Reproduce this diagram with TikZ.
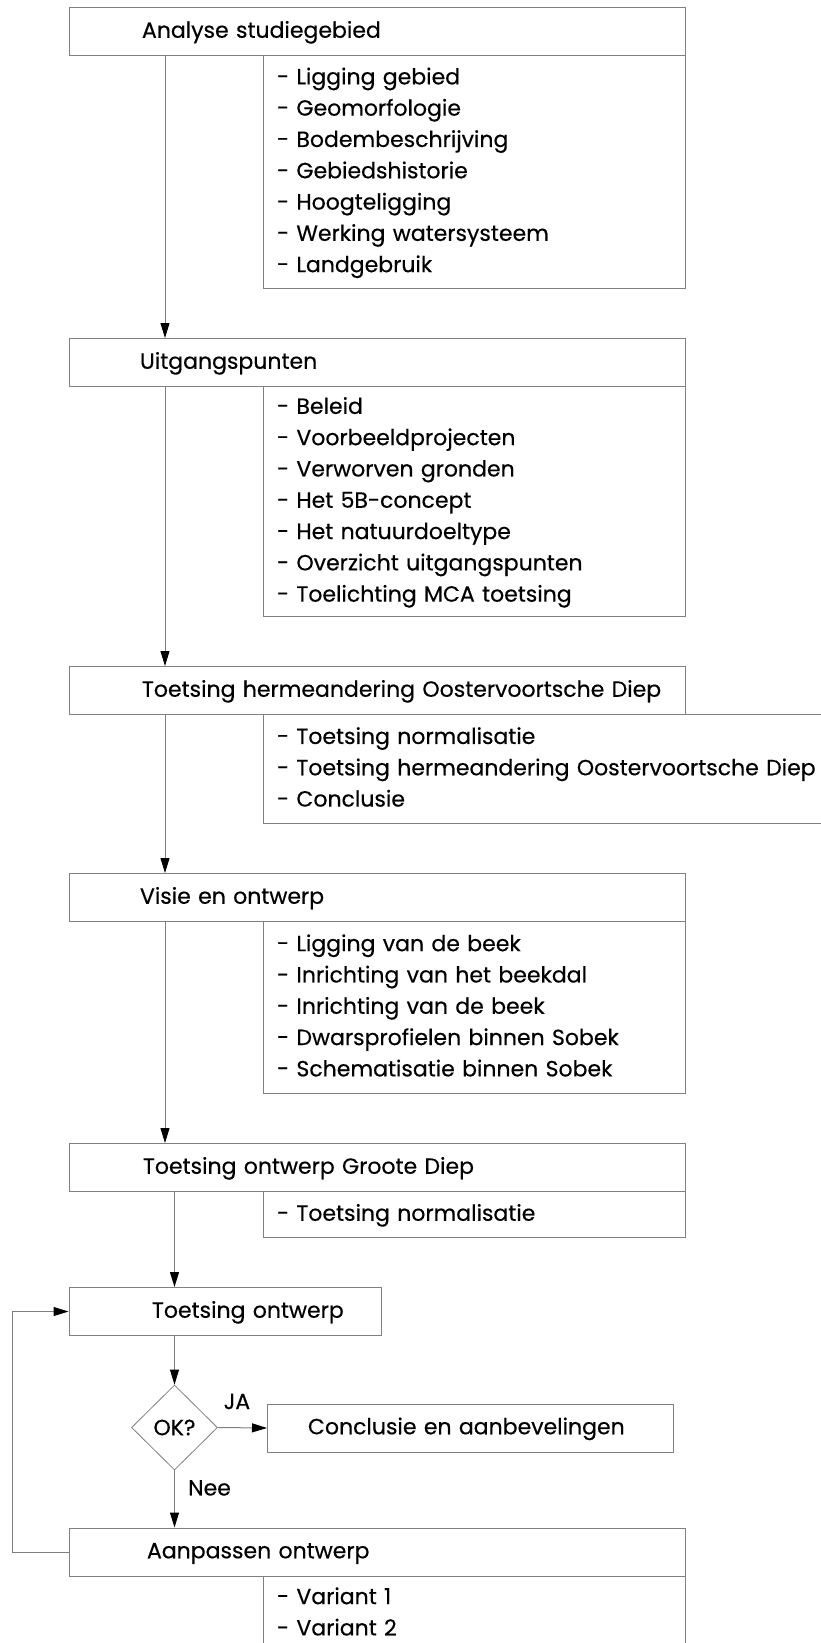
\documentclass[tikz,border=0pt]{standalone}
\usepackage{fontspec}
\setmainfont{Poppins}[FakeBold=0.4]
\usetikzlibrary{arrows.meta}
\usetikzlibrary{shapes.geometric}
\definecolor{linegray}{RGB}{128,128,128}

\begin{document}
\begin{tikzpicture}[x=1pt, y=-1pt,
	font=\fontsize{22}{31.3}\selectfont,
	box/.style 2 args={draw=linegray, line width=1pt, anchor=north west, inner sep=0pt,
		minimum height=48pt, text width=#1, align=left,
		execute at begin node={\leftskip=#2\relax\strut}, execute at end node={\strut}},
	decision/.style={draw=linegray, line width=0.8pt, diamond, inner sep=0pt,
		minimum width=86pt, minimum height=85pt},
	arr/.style={draw=linegray, line width=1pt,
		-{Triangle[length=15pt, width=9pt, color=black, fill=black]}}]
\useasboundingbox (0,0) rectangle (820,1643);

\node[box={616pt}{73pt}] (analyse) at (68.5,7) {Analyse studiegebied};
\node[box={422pt}{14pt}, minimum height=233pt] (analyselist) at (262.5,55) {- Ligging gebied\\ - Geomorfologie\\ - Bodembeschrijving\\ - Gebiedshistorie\\ - Hoogteligging\\ - Werking watersysteem\\ - Landgebruik};

\node[box={616pt}{71pt}] (uitgang) at (68.5,338) {Uitgangspunten};
\node[box={422pt}{14pt}, minimum height=230pt] (uitganglist) at (262.5,386) {- Beleid\\ - Voorbeeldprojecten\\ - Verworven gronden\\ - Het 5B-concept\\ - Het natuurdoeltype\\ - Overzicht uitgangspunten\\ - Toelichting MCA toetsing};

\node[box={616pt}{73pt}] (toetsherm) at (68.5,666) {Toetsing hermeandering Oostervoortsche Diep};
\node[box={567pt}{14pt}, minimum height=109pt] (toetshermlist) at (262.5,714) {- Toetsing normalisatie\\ - Toetsing hermeandering Oostervoortsche Diep\\ - Conclusie};

\node[box={616pt}{71pt}] (visie) at (68.5,873) {Visie en ontwerp};
\node[box={422pt}{14pt}, minimum height=172pt] (visielist) at (262.5,921) {- Ligging van de beek\\ - Inrichting van het beekdal\\ - Inrichting van de beek\\ - Dwarsprofielen binnen Sobek\\ - Schematisatie binnen Sobek};

\node[box={616pt}{74pt}] (groot) at (68.5,1143) {Toetsing ontwerp Groote Diep};
\node[box={422pt}{14pt}, minimum height=46pt] (grootlist) at (262.5,1191) {- Toetsing normalisatie};

\node[box={312.5pt}{83pt}] (toetsontw) at (68.5,1287) {Toetsing ontwerp};
\node[decision] (ok) at (174.5,1427.5) {OK?};
\node[box={405.6pt}{40.5pt}] (concl) at (267,1403.5) {Conclusie en aanbevelingen};
\node (ja) at ([shift={(19,-26)}]ok.east) {JA};
\node (nee) at ([shift={(35,17.5)}]ok.south) {Nee};

\node[box={616pt}{78pt}] (aanpas) at (68.5,1527.5) {Aanpassen ontwerp};
\node[box={422pt}{14pt}, minimum height=74pt] (aanpaslist) at (262.5,1576) {- Variant 1\\ - Variant 2};

\draw[arr] ([xshift=96.5pt]analyse.south west) -- ([xshift=96.5pt]uitgang.north west);
\draw[arr] ([xshift=96.5pt]uitgang.south west) -- ([xshift=96.5pt]toetsherm.north west);
\draw[arr] ([xshift=96.5pt]toetsherm.south west) -- ([xshift=96.5pt]visie.north west);
\draw[arr] ([xshift=96.5pt]visie.south west) -- ([xshift=96.5pt]groot.north west);
\draw[arr] ([xshift=106pt]groot.south west) -- ([xshift=106pt]toetsontw.north west);
\draw[arr] ([xshift=106pt]toetsontw.south west) -- (ok.north);
\draw[arr] (ok.east) -- (concl.west);
\draw[arr] (ok.south) -- ([xshift=106pt]aanpas.north west);
\draw[arr] (aanpas.west) -- ++(-56,0) |- (toetsontw.west);
\end{tikzpicture}
\end{document}
